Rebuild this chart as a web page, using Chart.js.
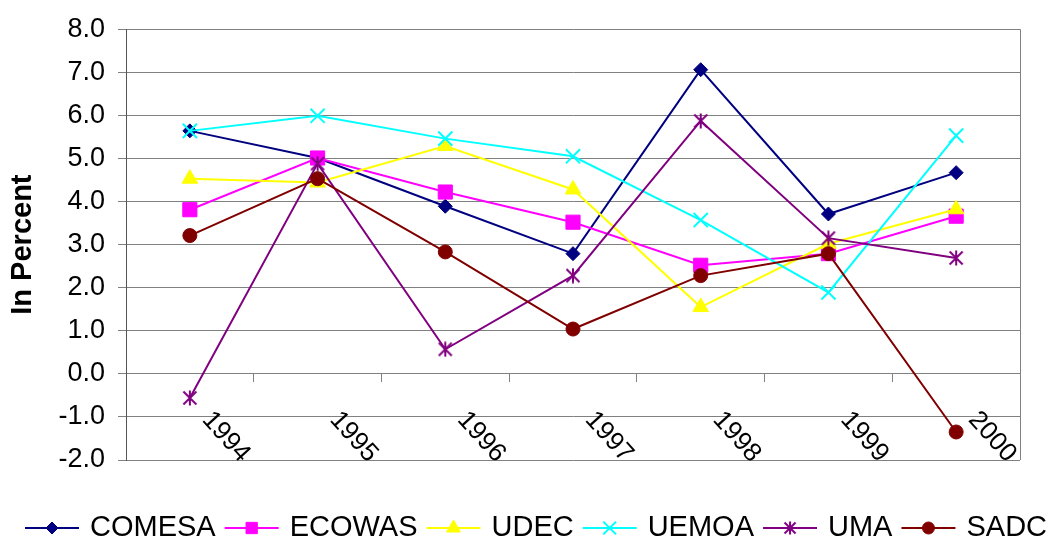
<!DOCTYPE html>
<html>
<head>
<meta charset="utf-8">
<script src="https://cdn.jsdelivr.net/npm/chart.js@4/dist/chart.umd.min.js"></script>
<style>
  html, body { margin: 0; padding: 0; background: #ffffff; }
  #wrap { width: 1049px; height: 542px; position: relative; }
</style>
</head>
<body>
<div id="wrap"><canvas id="c" width="1049" height="542"></canvas></div>
<script>
// ---- data ----
const years  = ['1994', '1995', '1996', '1997', '1998', '1999', '2000'];
const comesa = [5.64, 5.01, 3.89, 2.79, 7.06, 3.71, 4.67];
const ecowas = [3.81, 5.01, 4.22, 3.52, 2.52, 2.79, 3.66];
const udec   = [4.53, 4.44, 5.29, 4.28, 1.55, 3.02, 3.82];
const uemoa  = [5.64, 5.99, 5.46, 5.05, 3.57, 1.89, 5.53];
const uma    = [-0.56, 4.88, 0.57, 2.28, 5.87, 3.15, 2.69];
const sadc   = [3.21, 4.53, 2.83, 1.04, 2.28, 2.79, -1.35];
const seriesNames = ['COMESA', 'ECOWAS', 'UDEC', 'UEMOA', 'UMA', 'SADC'];
const yAxisTitle = 'In Percent';

const FONT = "'Liberation Sans', Arial, sans-serif";

function makeStar(size, color) {
  const cv = document.createElement('canvas');
  cv.width = size; cv.height = size;
  const g = cv.getContext('2d');
  g.strokeStyle = color; g.lineWidth = 2; g.lineCap = 'butt';
  const p = 1.5, m = size / 2;
  g.beginPath();
  g.moveTo(p, p); g.lineTo(size - p, size - p);
  g.moveTo(size - p, p); g.lineTo(p, size - p);
  g.moveTo(m, 0.5); g.lineTo(m, size - 0.5);
  g.stroke();
  return cv;
}
const starBig = makeStar(16, '#800080');
const starSmall = makeStar(14, '#800080');

const styles = [
  { color: '#000080', pointStyle: 'rectRot', radius: 7, lr: 6 },
  { color: '#FF00FF', pointStyle: 'rect', radius: 10, lr: 8 },
  { color: '#FFFF00', pointStyle: 'triangle', radius: 9, lr: 8 },
  { color: '#00FFFF', pointStyle: 'crossRot', radius: 10, lr: 9 },
  { color: '#800080', pointStyle: starBig, radius: 8, lr: 7, legendStyle: starSmall },
  { color: '#800000', pointStyle: 'circle', radius: 7, lr: 6 }
];
const values = [comesa, ecowas, udec, uemoa, uma, sadc];

const datasets = values.map((v, i) => ({
  label: seriesNames[i],
  data: v,
  borderColor: styles[i].color,
  backgroundColor: styles[i].color,
  borderWidth: 2,
  pointStyle: styles[i].pointStyle,
  pointRadius: styles[i].radius,
  pointHoverRadius: styles[i].radius,
  pointBorderWidth: (styles[i].pointStyle === 'crossRot') ? 2 : 1,
  tension: 0,
  fill: false,
  order: values.length - i
}));

const decorPlugin = {
  id: 'decor',
  afterDraw(chart) {
    const ctx = chart.ctx;
    const area = chart.chartArea;
    const xs = chart.scales.x, ys = chart.scales.y;
    ctx.save();
    // right border of plot area
    ctx.strokeStyle = '#808080';
    ctx.lineWidth = 1;
    ctx.beginPath();
    ctx.moveTo(Math.round(area.right) + 0.5, area.top);
    ctx.lineTo(Math.round(area.right) + 0.5, area.bottom);
    ctx.stroke();
    // rotated category labels under the zero line
    const y0 = ys.getPixelForValue(0);
    ctx.fillStyle = '#000';
    ctx.font = '26px ' + FONT;
    ctx.textAlign = 'center';
    ctx.textBaseline = 'middle';
    years.forEach((yr, i) => {
      const px = xs.getPixelForValue(i);
      ctx.save();
      ctx.translate(px + 36, y0 + 63);
      ctx.rotate(48 * Math.PI / 180);
      ctx.fillText(yr, 0, 0);
      ctx.restore();
    });
    // legend
    const ly = 528;
    let lx = 25;
    ctx.font = '29px ' + FONT;
    ctx.textAlign = 'left';
    ctx.textBaseline = 'middle';
    seriesNames.forEach((name, i) => {
      const st = styles[i];
      ctx.strokeStyle = st.color;
      ctx.lineWidth = 2;
      ctx.beginPath();
      ctx.moveTo(lx, ly); ctx.lineTo(lx + 54, ly);
      ctx.stroke();
      ctx.fillStyle = st.color;
      ctx.strokeStyle = st.color;
      ctx.lineWidth = (st.pointStyle === 'crossRot') ? 2 : 1;
      Chart.helpers.drawPoint(ctx, {
        pointStyle: st.legendStyle || st.pointStyle,
        radius: st.lr,
        rotation: 0,
        borderWidth: ctx.lineWidth
      }, lx + 27, ly);
      ctx.fillStyle = '#000';
      ctx.fillText(name, lx + 65, ly);
      lx += 65 + ctx.measureText(name).width + 9;
    });
    ctx.restore();
  }
};

new Chart(document.getElementById('c'), {
  type: 'line',
  data: { labels: years, datasets: datasets },
  options: {
    responsive: false,
    animation: false,
    events: [],
    layout: { padding: { left: 0, top: 25, right: 29, bottom: 82 } },
    plugins: {
      legend: { display: false },
      tooltip: { enabled: false },
      title: { display: false }
    },
    scales: {
      x: {
        type: 'category',
        offset: true,
        position: { y: 0 },
        grid: {
          offset: true,
          drawOnChartArea: false,
          drawTicks: true,
          tickLength: 8,
          color: '#808080'
        },
        border: { display: true, color: '#808080', width: 1 },
        ticks: { display: false }
      },
      y: {
        min: -2,
        max: 8,
        afterFit(scale) { scale.width = 126; },
        ticks: {
          stepSize: 1,
          padding: 13,
          color: '#000',
          font: { family: FONT, size: 27 },
          callback: (v) => Number(v).toFixed(1)
        },
        grid: {
          color: '#808080',
          lineWidth: 1,
          drawTicks: true,
          tickLength: 8
        },
        border: { display: true, color: '#555555', width: 1 },
        title: {
          display: true,
          text: yAxisTitle,
          color: '#000',
          font: { family: FONT, size: 29, weight: 'bold' },
          padding: { top: 6, bottom: 0 }
        }
      }
    }
  },
  plugins: [decorPlugin]
});
</script>
</body>
</html>
